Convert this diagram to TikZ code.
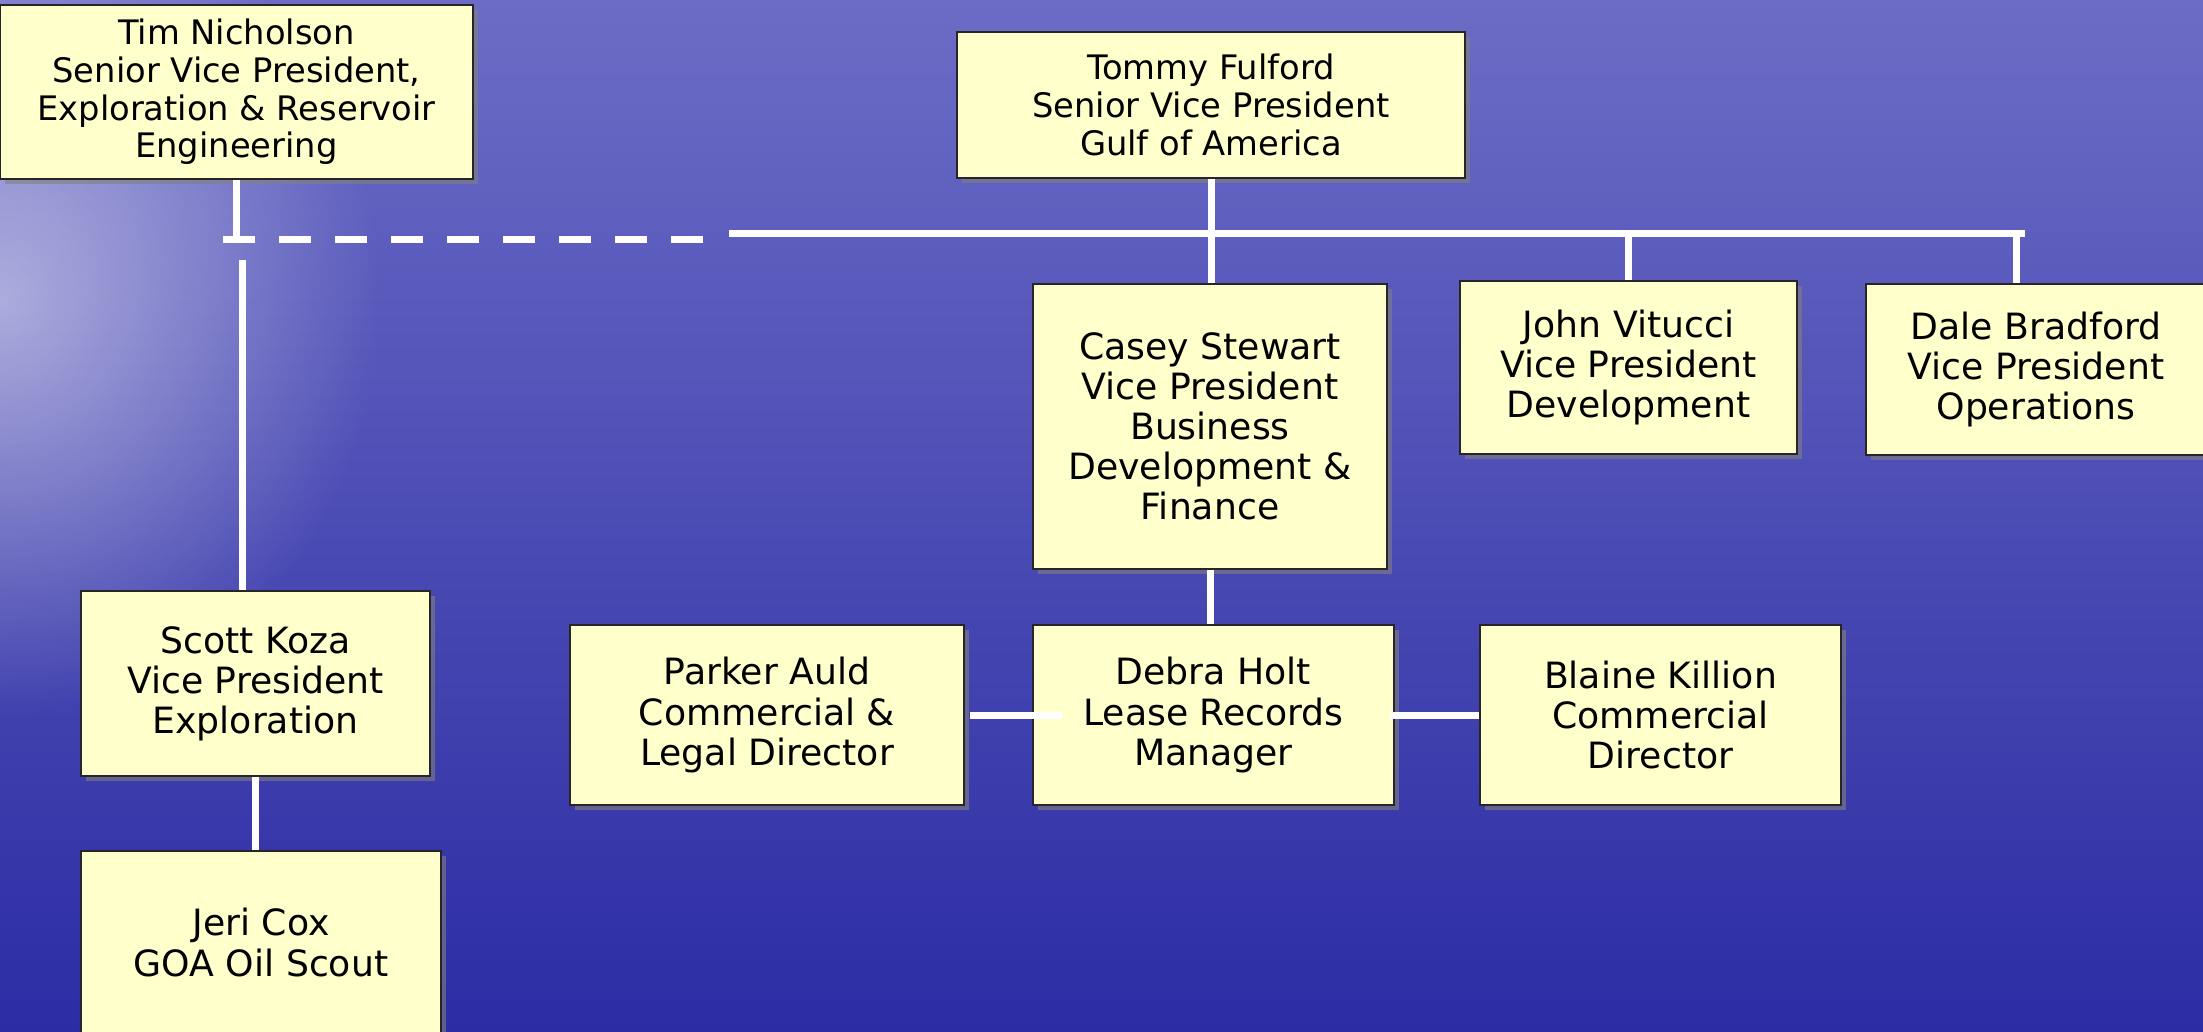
\documentclass[tikz,border=0pt]{standalone}
\usepackage{fontspec}
\setmainfont{DejaVu Sans}
\usetikzlibrary{shadows,fadings}
\definecolor{memo}{HTML}{FFFFCC}
\definecolor{bgtop}{HTML}{6C6CC6}
\definecolor{bgmid}{HTML}{4444B6}
\definecolor{bgbot}{HTML}{2C2CA4}
\tikzfading[name=glowband, top color=transparent!100, middle color=transparent!60, bottom color=transparent!100]
\tikzfading[name=softglow, inner color=transparent!0, outer color=transparent!100]
\tikzset{
  post/.style={draw=black!85, line width=0.5pt, fill=memo, align=center, inner sep=0pt,
    drop shadow={shadow xshift=1.3pt, shadow yshift=-1.3pt, opacity=0.6},
    font=\fontsize{10.3}{11.4}\selectfont},
  senior/.style={post, font=\fontsize{9.6}{10.7}\selectfont},
  link/.style={draw=white, line width=0.7mm},
}
\begin{document}
\begin{tikzpicture}[x=0.1mm, y=-0.1mm]
  \useasboundingbox (0,0) rectangle (2203,1031);
  \shade[top color=bgtop, middle color=bgmid, bottom color=bgbot] (0,0) rectangle (2203,1031);
  \fill[white, path fading=glowband] (0,30) rectangle (2203,150);
  \fill[white, opacity=0.5, path fading=softglow] (0,300) ellipse (380 and 420);
  \node[senior, minimum width=47.3mm, minimum height=17.4mm] (tim) at (236.5,92)
    {Tim Nicholson\\Senior Vice President,\\Exploration \& Reservoir\\Engineering};
  \node[senior, minimum width=50.8mm, minimum height=14.6mm] (tommy) at (1211,105)
    {Tommy Fulford\\Senior Vice President\\Gulf of America};
  \node[post, minimum width=35.4mm, minimum height=28.5mm] (casey) at (1210,426.5)
    {Casey Stewart\\Vice President\\Business\\Development \&\\Finance};
  \node[post, minimum width=33.7mm, minimum height=17.3mm] (john) at (1628.5,367.5)
    {John Vitucci\\Vice President\\Development};
  \node[post, minimum width=34mm, minimum height=17.1mm] (dale) at (2036,369.5)
    {Dale Bradford\\Vice President\\Operations};
  \node[post, minimum width=34.9mm, minimum height=18.5mm] (scott) at (255.5,683.5)
    {Scott Koza\\Vice President\\Exploration};
  \node[post, minimum width=36mm, minimum height=18.3mm] (jeri) at (261,942.5)
    {Jeri Cox\\GOA Oil Scout};
  \node[post, minimum width=39.4mm, minimum height=18mm] (parker) at (767,715)
    {Parker Auld\\Commercial \&\\Legal Director};
  \node[post, minimum width=36.1mm, minimum height=18mm] (debra) at (1213.5,715)
    {Debra Holt\\Lease Records\\Manager};
  \node[post, minimum width=36.1mm, minimum height=18mm] (blaine) at (1660.5,715)
    {Blaine Killion\\Commercial\\Director};
  \coordinate (dashL) at (223,239);
  \coordinate (dashR) at (710,239);
  \coordinate (barL) at (729,233);
  \coordinate (barR) at (2025,233);
  \coordinate (scottin) at (242,260);
  \coordinate (daletop) at ([xshift=-2mm]dale.north);
  \draw[link] (tim.south) -- (tim.south |- dashL);
  \draw[link, dash pattern=on 3.2mm off 2.4mm] (dashL) -- (dashR);
  \draw[link] (barL) -- (barR);
  \draw[link] (scottin) -- (scottin |- scott.north);
  \draw[link] (scott.south) -- (scott.south |- jeri.north);
  \draw[link] (tommy.south) -- (tommy.south |- casey.north);
  \draw[link] (john.north |- barL) -- (john.north);
  \draw[link] (daletop |- barR) -- (daletop);
  \draw[link] (casey.south) -- (casey.south |- debra.north);
  \draw[link] ([xshift=0.5mm]parker.east) -- ([xshift=3mm]debra.west);
  \draw[link] ([xshift=-0.5mm]debra.east) -- (blaine.west);
\end{tikzpicture}
\end{document}
